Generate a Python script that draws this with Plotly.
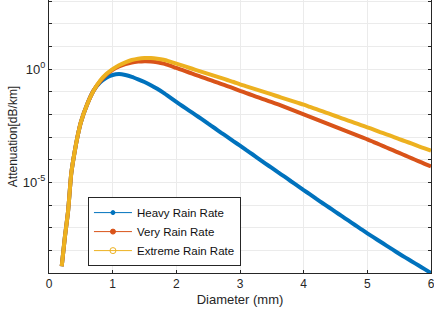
import plotly.graph_objects as go

# Diameter (mm)
diameter = [0.2, 0.25, 0.3, 0.35, 0.4, 0.45, 0.5, 0.6, 0.7, 0.8, 0.9,
            1.0, 1.1, 1.2, 1.3, 1.4, 1.5, 1.6, 1.7, 1.8, 1.9,
            2.0, 2.1, 2.2, 2.3, 2.4, 2.5, 2.6, 2.7, 2.8, 2.9,
            3.0, 3.1, 3.2, 3.3, 3.4, 3.5, 3.6, 3.7, 3.8, 3.9,
            4.0, 4.1, 4.2, 4.3, 4.4, 4.5, 4.6, 4.7, 4.8, 4.9,
            5.0, 5.1, 5.2, 5.3, 5.4, 5.5, 5.6, 5.7, 5.8, 5.9, 6.0]

# log10 of attenuation [dB/km]
heavy_log10 = [-8.7, -7.4, -6.26, -4.6, -3.7, -2.95, -2.35, -1.55, -0.95, -0.6, -0.38,
               -0.26, -0.22, -0.26, -0.34, -0.45, -0.57, -0.71, -0.87, -1.05, -1.25,
               -1.45, -1.64, -1.83, -2.02, -2.21, -2.41, -2.6, -2.8, -2.99, -3.19,
               -3.38, -3.58, -3.77, -3.97, -4.17, -4.36, -4.56, -4.75, -4.95, -5.14,
               -5.34, -5.53, -5.73, -5.92, -6.11, -6.3, -6.49, -6.68, -6.87, -7.06,
               -7.25, -7.43, -7.61, -7.79, -7.97, -8.15, -8.32, -8.49, -8.66, -8.83, -9.0]
very_log10 = [-8.7, -7.4, -6.26, -4.6, -3.7, -2.95, -2.35, -1.55, -0.95, -0.55, -0.25,
              -0.03, 0.12, 0.22, 0.29, 0.33, 0.35, 0.34, 0.30, 0.24, 0.15,
              0.05, -0.05, -0.15, -0.25, -0.35, -0.45, -0.55, -0.65, -0.75, -0.85,
              -0.96, -1.06, -1.16, -1.26, -1.36, -1.46, -1.56, -1.67, -1.78, -1.89,
              -2.0, -2.11, -2.22, -2.33, -2.44, -2.55, -2.66, -2.77, -2.88, -2.99,
              -3.1, -3.22, -3.34, -3.46, -3.58, -3.7, -3.82, -3.94, -4.06, -4.18, -4.3]
extreme_log10 = [-8.7, -7.4, -6.26, -4.6, -3.7, -2.95, -2.35, -1.55, -0.95, -0.52, -0.22,
                 0.0, 0.17, 0.3, 0.4, 0.46, 0.49, 0.49, 0.46, 0.41, 0.33,
                 0.24, 0.15, 0.06, -0.03, -0.12, -0.21, -0.3, -0.39, -0.48, -0.57,
                 -0.67, -0.76, -0.85, -0.94, -1.03, -1.12, -1.21, -1.3, -1.39, -1.48,
                 -1.57, -1.67, -1.77, -1.87, -1.97, -2.07, -2.17, -2.27, -2.37, -2.47,
                 -2.57, -2.67, -2.78, -2.88, -2.98, -3.09, -3.19, -3.29, -3.4, -3.5, -3.6]

series_names = ["Heavy Rain Rate", "Very Rain Rate", "Extreme Rain Rate"]
series_log10 = [heavy_log10, very_log10, extreme_log10]
colors = ["#0072BD", "#D95319", "#EDB120"]
markers = [dict(symbol="circle", size=3), dict(symbol="circle", size=4),
           dict(symbol="circle-open", size=5)]

x_ticks = [0, 1, 2, 3, 4, 5, 6]
y_decades = list(range(-9, 4))
y_labels = {-5: "10<sup>-5</sup>", 0: "10<sup>0</sup>"}

fig = go.Figure()
for name, vals, col, mk in zip(series_names, series_log10, colors, markers):
    fig.add_trace(go.Scatter(
        x=diameter, y=[10 ** v for v in vals], mode="lines",
        line=dict(color=col, width=4, shape="spline", smoothing=0.6),
        showlegend=False, hoverinfo="skip"))
for name, col, mk in zip(series_names, colors, markers):
    fig.add_trace(go.Scatter(
        x=[None], y=[None], mode="lines+markers", name=name,
        line=dict(color=col, width=1),
        marker=dict(color=col, symbol=mk["symbol"], size=mk["size"] + 1,
                    line=dict(color=col, width=1))))

font = "Liberation Sans, Arial, sans-serif"
fig.update_layout(
    width=434, height=309,
    margin=dict(l=49, r=3, t=0, b=36),
    paper_bgcolor="white", plot_bgcolor="white",
    font=dict(family=font, size=12, color="#262626"),
    legend=dict(x=0.102, y=0.278, xanchor="left", yanchor="top",
                bgcolor="white", bordercolor="#262626", borderwidth=1,
                font=dict(size=11.5, color="#111111"),
                tracegroupgap=0, itemwidth=38),
)
fig.update_xaxes(
    range=[0, 6], tickvals=x_ticks, ticktext=[str(t) for t in x_ticks],
    ticks="inside", ticklen=3, tickcolor="#262626",
    showline=True, linecolor="#262626", linewidth=1, mirror=False,
    showgrid=True, gridcolor="#EBEBEB", gridwidth=1, zeroline=False,
    automargin=False, ticklabeloverflow="allow",
    title=dict(text="Diameter (mm)", font=dict(size=13), standoff=4),
    tickfont=dict(size=12),
)
fig.update_yaxes(
    type="log", range=[-9, 3.05],
    tickvals=[10 ** d for d in y_decades],
    ticktext=[y_labels.get(d, "") for d in y_decades],
    ticks="inside", ticklen=3, tickcolor="#262626",
    showline=True, linecolor="#262626", linewidth=1, mirror="ticks",
    showgrid=True, gridcolor="#EBEBEB", gridwidth=1, zeroline=False,
    automargin=False,
    title=dict(text="Attenuation[dB/km]", font=dict(size=12), standoff=2),
    tickfont=dict(size=13),
)
fig.write_html("out.html", config={"displayModeBar": False},
               post_script="document.body.style.margin='0px';document.body.style.overflow='hidden';")
